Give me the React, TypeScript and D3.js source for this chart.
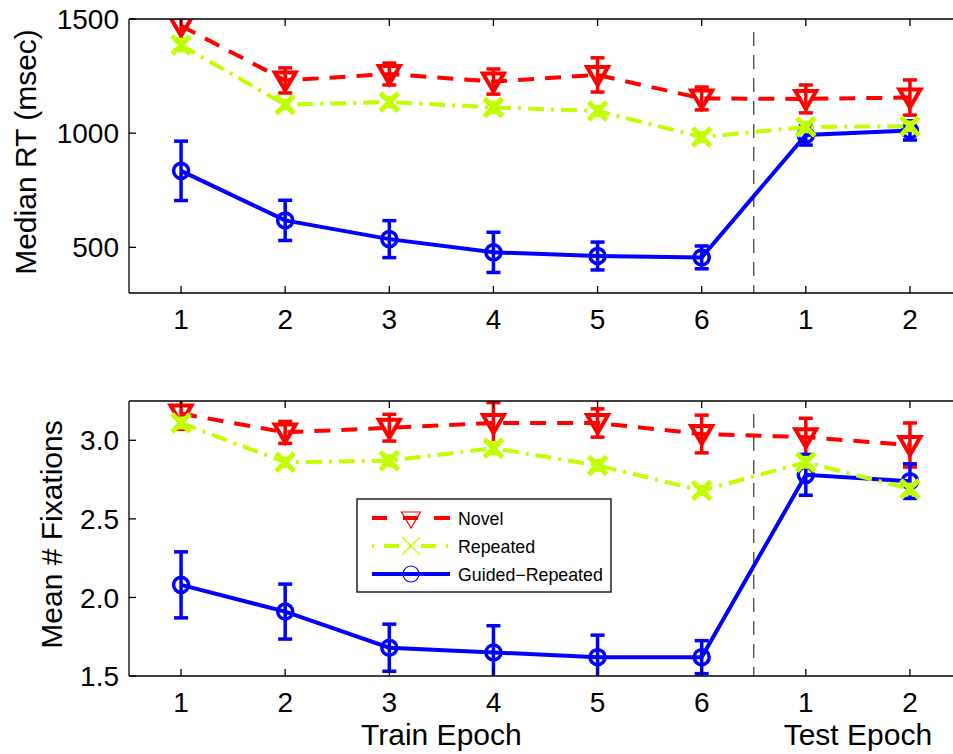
import React from 'react';
import * as d3 from 'd3';

const epochLabels = ['1', '2', '3', '4', '5', '6', '1', '2'];
const seriesNames = ['Novel', 'Repeated', 'Guided\u2212Repeated'];

const rtNovel = [1470, 1231, 1259, 1226, 1255, 1152, 1150, 1156];
const rtNovelErr = [60, 55, 48, 55, 75, 50, 61, 77];
const rtRepeated = [1386, 1125, 1136, 1113, 1097, 983, 1027, 1030];
const rtRepeatedErr = [25, 18, 20, 22, 19, 17, 20, 18];
const rtGuided = [835, 618, 536, 478, 462, 456, 992, 1012];
const rtGuidedErr = [130, 88, 81, 88, 61, 50, 44, 42];

const fixNovel = [3.17, 3.05, 3.08, 3.11, 3.11, 3.04, 3.02, 2.97];
const fixNovelErr = [0.1, 0.07, 0.085, 0.13, 0.09, 0.12, 0.12, 0.14];
const fixRepeated = [3.11, 2.86, 2.87, 2.95, 2.84, 2.68, 2.86, 2.69];
const fixRepeatedErr = [0.03, 0.025, 0.03, 0.035, 0.03, 0.025, 0.03, 0.03];
const fixGuided = [2.08, 1.91, 1.68, 1.65, 1.62, 1.62, 2.78, 2.74];
const fixGuidedErr = [0.21, 0.175, 0.15, 0.17, 0.14, 0.105, 0.13, 0.11];

const rtTicks = [500, 1000, 1500];
const fixTicks = [1.5, 2.0, 2.5, 3.0];

const RED = '#ff0000';
const YEL = '#bfff00';
const BLUE = '#0000ff';
const FONT = '"Liberation Sans", Arial, Helvetica, sans-serif';

const x = d3.scaleLinear().domain([-0.5, 7.5]).range([129, 962]);
const idx = epochLabels.map((_, i) => i);

type Style = { color: string; dash?: string; marker: 'tri' | 'x' | 'circle' };
const styles: Style[] = [
  { color: RED, dash: '16,11', marker: 'tri' },
  { color: YEL, dash: '16,7,3,7', marker: 'x' },
  { color: BLUE, marker: 'circle' },
];

function Marker({ kind, cx, cy, color, thin }: { kind: string; cx: number; cy: number; color: string; thin?: boolean }) {
  if (kind === 'tri') {
    const w = thin ? 9.5 : 10.5;
    const t = thin ? 7 : 8;
    const b = thin ? 9 : 10;
    return <path d={`M${cx - w},${cy - t}L${cx + w},${cy - t}L${cx},${cy + b}Z`} fill="none" stroke={color} strokeWidth={thin ? 1.2 : 4} strokeLinejoin="miter" />;
  }
  if (kind === 'x') {
    const s = 9;
    return (
      <g stroke={color} strokeWidth={thin ? 1.2 : 5}>
        <line x1={cx - s} y1={cy - s} x2={cx + s} y2={cy + s} />
        <line x1={cx - s} y1={cy + s} x2={cx + s} y2={cy - s} />
      </g>
    );
  }
  return <circle cx={cx} cy={cy} r={thin ? 8 : 7.5} fill="none" stroke={color} strokeWidth={thin ? 1.2 : 3.5} />;
}

function Panel({ id, top, bottom, domain, ticks, fmt, series, errs, ylabel, ylabelX, xlabelY }: any) {
  const y = d3.scaleLinear().domain(domain).range([bottom, top]);
  const line = d3.line<number>().x((_, i) => x(i)).y((v) => y(v));
  const order = [0, 2, 1];
  return (
    <g>
      <defs>
        <clipPath id={id}>
          <rect x={x(-0.5)} y={top} width={x(7.5) - x(-0.5)} height={bottom - top} />
        </clipPath>
      </defs>
      <line x1={x(5.5)} x2={x(5.5)} y1={top + 13} y2={bottom} stroke="#444" strokeWidth={1.3} strokeDasharray="14,9" />
      <g clipPath={`url(#${id})`}>
        {order.map((s) => {
          const st = styles[s];
          return (
            <g key={s}>
              <path d={line(series[s]) || ''} fill="none" stroke={st.color} strokeWidth={4} strokeDasharray={st.dash} />
              {idx.map((i) => {
                const v = series[s][i];
                const e = errs[s][i];
                const cx = x(i);
                return (
                  <g key={i} stroke={st.color} strokeWidth={3.5}>
                    <line x1={cx} x2={cx} y1={y(v - e)} y2={y(v + e)} />
                    <line x1={cx - 7} x2={cx + 7} y1={y(v - e)} y2={y(v - e)} />
                    <line x1={cx - 7} x2={cx + 7} y1={y(v + e)} y2={y(v + e)} />
                  </g>
                );
              })}
              {idx.map((i) => (
                <Marker key={'m' + i} kind={st.marker} cx={x(i)} cy={y(series[s][i])} color={st.color} />
              ))}
            </g>
          );
        })}
      </g>
      <g stroke="#000" strokeWidth={1.3} fill="none">
        <line x1={x(-0.5)} x2={953} y1={top} y2={top} />
        <line x1={x(-0.5)} x2={953} y1={bottom} y2={bottom} />
        <line x1={x(-0.5)} x2={x(-0.5)} y1={top} y2={bottom} />
        {idx.map((i) => (
          <g key={i}>
            <line x1={x(i)} x2={x(i)} y1={bottom} y2={bottom - 7} />
            <line x1={x(i)} x2={x(i)} y1={top} y2={top + 7} />
          </g>
        ))}
        {ticks.map((t: number) => (
          <line key={t} x1={x(-0.5)} x2={x(-0.5) + 7} y1={y(t)} y2={y(t)} />
        ))}
      </g>
      <g fontFamily={FONT} fontSize={28} fill="#000">
        {ticks.map((t: number) => (
          <text key={t} x={119} y={y(t)} dy="0.36em" textAnchor="end">{fmt(t)}</text>
        ))}
        {idx.map((i) => (
          <text key={i} x={x(i)} y={xlabelY} textAnchor="middle">{epochLabels[i]}</text>
        ))}
      </g>
      <text fontFamily={FONT} fontSize={30} textAnchor="middle" transform={`translate(${ylabelX},${(top + bottom) / 2 - 4}) rotate(-90)`}>{ylabel}</text>
    </g>
  );
}

export default function App() {
  const legendRows = [518, 546, 574];
  return (
    <svg width={953} height={754} style={{ position: 'absolute', left: 0, top: 0, background: '#fff' }}>
      <rect width={953} height={754} fill="#fff" />
      <Panel
        id="clipTop"
        top={19}
        bottom={293}
        domain={[300, 1500]}
        ticks={rtTicks}
        fmt={(t: number) => String(t)}
        series={[rtNovel, rtRepeated, rtGuided]}
        errs={[rtNovelErr, rtRepeatedErr, rtGuidedErr]}
        ylabel="Median RT (msec)"
        ylabelX={36}
        xlabelY={329}
      />
      <Panel
        id="clipBottom"
        top={401}
        bottom={676}
        domain={[1.5, 3.25]}
        ticks={fixTicks}
        fmt={(t: number) => t.toFixed(1)}
        series={[fixNovel, fixRepeated, fixGuided]}
        errs={[fixNovelErr, fixRepeatedErr, fixGuidedErr]}
        ylabel="Mean # Fixations"
        ylabelX={62}
        xlabelY={712}
      />
      <text x={(x(0) + x(5)) / 2} y={745} fontFamily={FONT} fontSize={30} textAnchor="middle">Train Epoch</text>
      <text x={(x(6) + x(7)) / 2} y={745} fontFamily={FONT} fontSize={30} textAnchor="middle">Test Epoch</text>
      <g>
        <rect x={357} y={499} width={254} height={93} fill="#fff" stroke="#000" strokeWidth={1.3} />
        {seriesNames.map((name, s) => {
          const st = styles[s];
          const ly = legendRows[s];
          return (
            <g key={name}>
              <line x1={372} x2={450} y1={ly} y2={ly} stroke={st.color} strokeWidth={4} strokeDasharray={s === 0 ? '15,16' : s === 1 ? '2,10,15,10' : undefined} />
              {s === 0 && <line x1={435} x2={450} y1={ly} y2={ly} stroke={st.color} strokeWidth={4} />}
              <Marker kind={st.marker} cx={411} cy={ly + (s === 0 ? 1 : 0)} color={st.color} thin />
              <text x={458} y={ly + 6.5} fontFamily={FONT} fontSize={17.8}>{name}</text>
            </g>
          );
        })}
      </g>
    </svg>
  );
}
